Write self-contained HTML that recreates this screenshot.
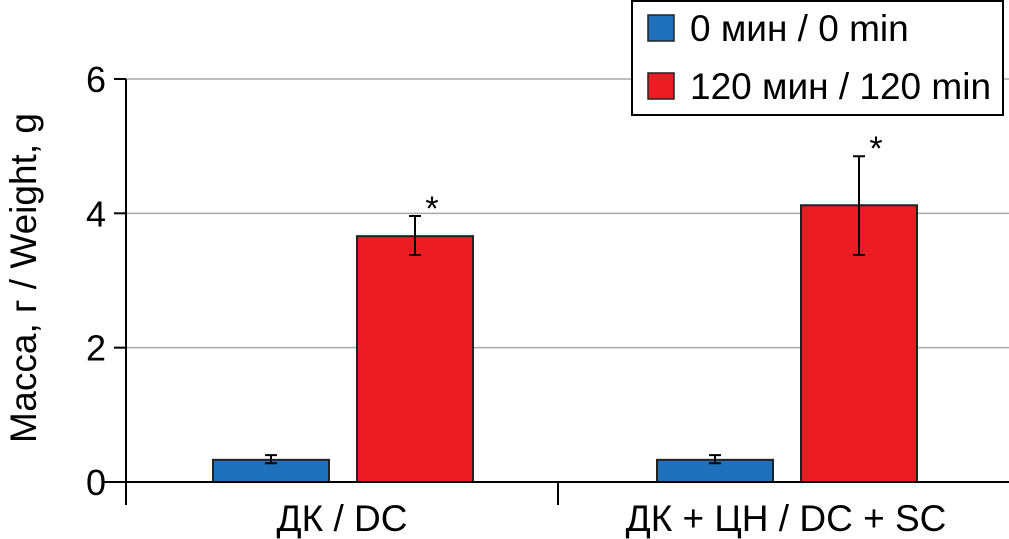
<!DOCTYPE html>
<html><head><meta charset="utf-8"><style>
body{margin:0;background:#fff;}
svg{display:block;font-family:"Liberation Sans",sans-serif;}
</style></head><body>
<svg id="chart" width="1009" height="539">
<g id="grid"></g><g id="bars"></g><g id="axes"></g>
<g>
<rect x="632" y="1" width="371" height="114" fill="#fff" stroke="#000" stroke-width="2"/>
<rect x="648" y="15" width="26" height="26" fill="#1f71bb" stroke="#222" stroke-width="1.5"/>
<text x="690" y="41" font-size="37">0 мин / 0 min</text>
<rect x="648" y="73" width="26" height="26" fill="#ec1c24" stroke="#222" stroke-width="1.5"/>
<text x="690" y="99" font-size="37">120 мин / 120 min</text>
</g>
<text transform="translate(36,278) rotate(-90)" text-anchor="middle" font-size="37">Масса, г / Weight, g</text>
</svg>
<script>
const categories=["ДК / DC","ДК + ЦН / DC + SC"];
const series0=[0.33,0.33];
const series0Lo=[0.28,0.28];
const series0Hi=[0.40,0.40];
const series120=[3.66,4.12];
const series120Lo=[3.38,3.38];
const series120Hi=[3.96,4.85];
const yTicks=[0,2,4,6];
const NS="http://www.w3.org/2000/svg";
const y0=482,pxPer=67.17;
function y(v){return y0-v*pxPer;}
const x0=126,x1=1009,catW=444;
function catX(i){return x0+catW*i;}
function mk(tag,attrs,parent){const e=document.createElementNS(NS,tag);for(const k in attrs)e.setAttribute(k,attrs[k]);document.getElementById(parent).appendChild(e);return e;}
yTicks.forEach(t=>{
 if(t>0){const g=mk('line',{x1:x0,x2:x1,y1:y(t),y2:y(t),stroke:'#aaa','stroke-width':1.5},'grid');
 
 }
 const tk=mk('line',{x1:x0-12,x2:x0,y1:y(t),y2:y(t),stroke:'#000','stroke-width':2},'axes');
 
 
 const tl=mk('text',{x:x0-20,y:y(t)+13,'text-anchor':'end','font-size':36},'axes');
 tl.textContent=t;
 
 
});
mk('line',{x1:x0,x2:x0,y1:y(6),y2:505,stroke:'#000','stroke-width':2},'axes');
mk('line',{x1:102,x2:x1,y1:y0,y2:y0,stroke:'#000','stroke-width':2},'axes');
mk('line',{x1:558,x2:558,y1:y0,y2:505,stroke:'#000','stroke-width':2},'axes');
function bar(v,lo,hi,x,color,name,star){
 const r=mk('rect',{x:x,y:y(v),width:116,height:y0-y(v),fill:color,stroke:'#222','stroke-width':2},'bars');
 
 
 const cx=x+58;
 const w=6;
 const e=mk('path',{d:`M${cx},${y(lo)}V${y(hi)}M${cx-w},${y(lo)}H${cx+w}M${cx-w},${y(hi)}H${cx+w}`,stroke:'#000','stroke-width':2,fill:'none'},'bars');
 
 
 if(star){const s=mk('text',{x:cx+17,y:y(hi)+4,'text-anchor':'middle','font-size':34},'bars');s.textContent='*';
 
 }
}
categories.forEach((c,i)=>{
 const bx=catX(i);
 bar(series0[i],series0Lo[i],series0Hi[i],bx+87,'#1f71bb','bar-0min-'+i,false);
 bar(series120[i],series120Lo[i],series120Hi[i],bx+231,'#ec1c24','bar-120min-'+i,true);
 const t=mk('text',{x:bx+216+(i?0:0),y:531,'text-anchor':'middle','font-size':37},'axes');
 t.textContent=c;
 
 
});
</script>
</body></html>
